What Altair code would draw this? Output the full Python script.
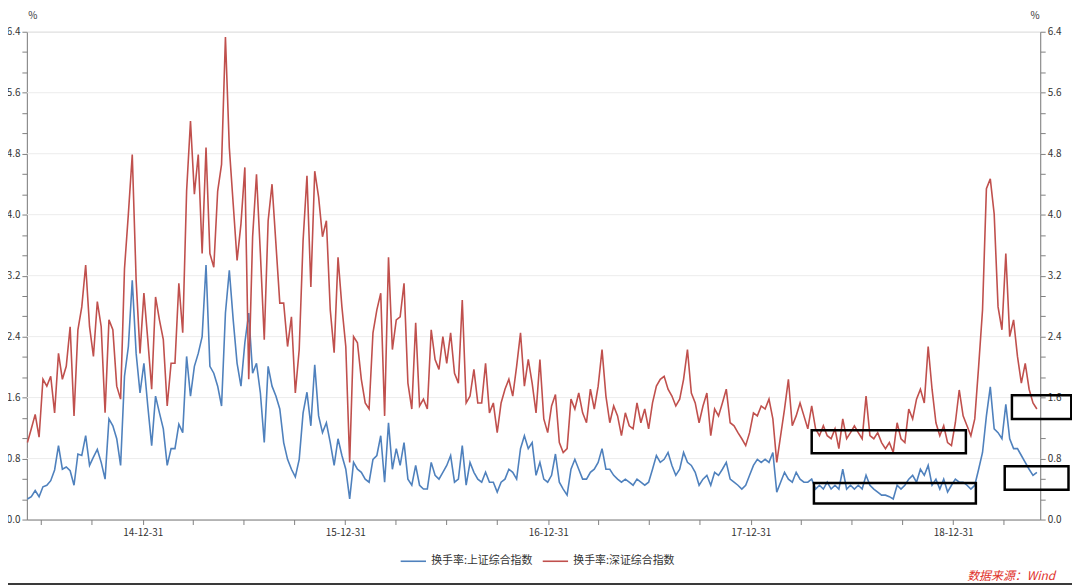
import altair as alt
import pandas as pd

# ---------------- data (weekly readings) ----------------
first_week = "2014-06-06"

sh_turnover = [
    0.27, 0.30, 0.38, 0.30, 0.43, 0.45, 0.51, 0.65, 0.97, 0.66, 0.69, 0.64, 0.45, 0.86, 0.84, 1.10,
    0.71, 0.82, 0.92, 0.75, 0.53, 1.32, 1.23, 1.06, 0.71, 1.88, 2.27, 3.14, 2.18, 1.66, 2.05, 1.49,
    0.97, 1.62, 1.40, 1.19, 0.71, 0.93, 0.93, 1.25, 1.14, 2.14, 1.62, 2.01, 2.18, 2.40, 3.34, 2.01,
    1.92, 1.75, 1.49, 2.71, 3.27, 2.62, 2.05, 1.75, 2.32, 2.71, 1.92, 2.05, 1.66, 1.01, 2.01, 1.75,
    1.62, 1.45,
    1.01, 0.79, 0.66, 0.56, 0.79, 1.40, 1.67, 1.23, 2.03, 1.36, 1.14, 1.27, 1.01, 0.71, 1.06, 0.84,
    0.66, 0.27, 0.75, 0.66, 0.62, 0.53, 0.49, 0.79, 0.84, 1.10, 0.49, 1.27, 0.66, 0.93, 0.71, 1.01,
    0.53, 0.45, 0.71, 0.45, 0.40, 0.40, 0.75, 0.58, 0.53, 0.62, 0.71, 0.84, 0.49, 0.53, 0.97, 0.45,
    0.75, 0.62, 0.53, 0.49, 0.62, 0.49, 0.49, 0.36, 0.49, 0.53, 0.66, 0.62, 0.53, 0.93, 1.10, 0.93,
    1.01, 0.58,
    0.75, 0.53, 0.49, 0.58, 0.86, 0.49, 0.40, 0.32, 0.66, 0.79, 0.66, 0.53, 0.53, 0.62, 0.66, 0.75,
    0.93, 0.66, 0.66, 0.58, 0.53, 0.49, 0.53, 0.49, 0.45, 0.53, 0.49, 0.45, 0.49, 0.66, 0.84, 0.75,
    0.79, 0.88, 0.71, 0.58, 0.66, 0.88, 0.75, 0.71, 0.62, 0.45, 0.53, 0.58, 0.45, 0.62, 0.58, 0.66,
    0.75, 0.53, 0.49, 0.45, 0.40, 0.45, 0.58, 0.71, 0.79, 0.75, 0.79, 0.75, 0.88, 0.36, 0.49, 0.62,
    0.53, 0.49,
    0.62, 0.53, 0.49, 0.49, 0.53, 0.40, 0.45, 0.40, 0.49, 0.40, 0.45, 0.40, 0.66, 0.40, 0.45, 0.40,
    0.45, 0.40, 0.58, 0.45, 0.40, 0.36, 0.32, 0.32, 0.30, 0.27, 0.45, 0.40, 0.45, 0.53, 0.58, 0.49,
    0.66, 0.58, 0.71, 0.45, 0.53, 0.40, 0.53, 0.36, 0.45, 0.53, 0.49, 0.49, 0.45, 0.40, 0.45, 0.66,
    0.88, 1.36, 1.74, 1.19, 1.14, 1.06, 1.51, 1.06, 0.93, 0.93, 0.84, 0.75, 0.66, 0.58, 0.62,
]

sz_turnover = [
    1.01, 1.19, 1.38, 1.08, 1.84, 1.75, 1.88, 1.40, 2.18, 1.84, 2.01, 2.53, 1.36, 2.49, 2.79, 3.34,
    2.53, 2.14, 2.86, 2.53, 1.40, 2.62, 2.49, 1.75, 1.58, 3.29, 4.01, 4.79, 3.14, 2.18, 2.97, 2.36,
    1.71, 2.92, 2.62, 2.36, 1.49, 2.05, 2.05, 3.10, 2.45, 4.31, 5.23, 4.27, 4.79, 3.49, 4.88, 3.49,
    3.31, 4.31, 4.66, 6.33, 4.88, 4.14, 3.40, 3.88, 4.62, 1.84, 3.71, 4.53, 3.49, 2.36, 3.92, 4.40,
    3.62, 2.84,
    2.84, 2.27, 2.66, 1.66, 2.23, 3.66, 4.51, 3.05, 4.57, 4.23, 3.71, 3.92, 2.75, 2.19, 3.44, 2.79,
    2.27, 0.75, 2.40, 2.32, 1.84, 1.53, 1.45, 2.45, 2.75, 2.97, 1.36, 3.44, 2.23, 2.62, 2.66, 3.10,
    1.79, 1.45, 2.58, 1.49, 1.58, 1.45, 2.49, 2.10, 1.97, 2.40, 2.05, 2.45, 1.92, 1.79, 2.88, 1.53,
    1.62, 1.97, 1.53, 1.53, 2.05, 1.40, 1.53, 1.14, 1.53, 1.71, 1.84, 1.62, 2.01, 2.45, 1.75, 2.10,
    1.79, 1.40,
    2.10, 1.32, 1.14, 1.49, 1.64, 1.01, 0.88, 0.93, 1.58, 1.45, 1.66, 1.40, 1.27, 1.71, 1.45, 1.75,
    2.23, 1.62, 1.27, 1.49, 1.36, 1.10, 1.40, 1.23, 1.19, 1.53, 1.27, 1.45, 1.19, 1.53, 1.75, 1.84,
    1.88, 1.71, 1.62, 1.49, 1.58, 1.84, 2.23, 1.66, 1.53, 1.27, 1.49, 1.66, 1.10, 1.45, 1.36, 1.53,
    1.71, 1.27, 1.23, 1.14, 1.06, 0.97, 1.14, 1.40, 1.36, 1.49, 1.45, 1.58, 1.32, 0.75, 1.10, 1.45,
    1.84, 1.23,
    1.36, 1.53, 1.36, 1.19, 1.49, 1.19, 1.10, 1.23, 1.10, 1.06, 1.19, 0.93, 1.32, 1.06, 1.14, 1.23,
    1.14, 1.06, 1.62, 1.10, 1.06, 1.14, 1.01, 0.93, 1.01, 0.88, 1.27, 1.06, 1.01, 1.45, 1.32, 1.58,
    1.71, 1.53, 2.27, 1.71, 1.27, 1.10, 1.23, 1.01, 0.97, 1.27, 1.70, 1.36, 1.23, 1.10, 1.32, 2.01,
    2.75, 4.34, 4.47, 4.01, 2.79, 2.49, 3.49, 2.40, 2.62, 2.14, 1.79, 2.05, 1.71, 1.53, 1.45,
]

series_names = ["换手率:上证综合指数", "换手率:深证综合指数"]
series_colors = ["#4F81BD", "#C0504D"]

y_tick_values = [0.0, 0.2667, 0.5333, 0.8, 1.0667, 1.3333, 1.6, 1.8667, 2.1333, 2.4, 2.6667,
                 2.9333, 3.2, 3.4667, 3.7333, 4.0, 4.2667, 4.5333, 4.8, 5.0667, 5.3333, 5.6,
                 5.8667, 6.1333, 6.4]
grid_values = [0.8, 1.6, 2.4, 3.2, 4.0, 4.8, 5.6, 6.4]

quarter_ends = [(2014, 6, 30), (2014, 9, 30), (2014, 12, 31),
                (2015, 3, 31), (2015, 6, 30), (2015, 9, 30), (2015, 12, 31),
                (2016, 3, 31), (2016, 6, 30), (2016, 9, 30), (2016, 12, 31),
                (2017, 3, 31), (2017, 6, 30), (2017, 9, 30), (2017, 12, 31),
                (2018, 3, 31), (2018, 6, 30), (2018, 9, 30), (2018, 12, 31),
                (2019, 3, 31)]

# highlight boxes (dates / values)
box_start = ["2018-04-20", "2018-04-24", "2019-04-16", "2019-04-03"]
box_end = ["2019-01-23", "2019-02-10", "2019-08-01", "2019-07-27"]
box_low = [0.87, 0.21, 1.32, 0.39]
box_high = [1.17, 0.48, 1.63, 0.70]

source_note = "数据来源：Wind"

# ---------------- build tables ----------------
dates = pd.date_range(first_week, periods=len(sh_turnover), freq="7D").strftime("%Y-%m-%d").tolist()
lines_df = pd.DataFrame({
    "date": dates + dates,
    "value": sh_turnover + sz_turnover,
    "series": [series_names[0]] * len(sh_turnover) + [series_names[1]] * len(sz_turnover),
})
grid_df = pd.DataFrame({"v": grid_values})
box_df = pd.DataFrame({"start": box_start, "end": box_end, "low": box_low, "high": box_high})

FONT = "Noto Sans CJK SC"
W, H = 1020, 491

x_scale = alt.Scale(domain=[alt.DateTime(year=2014, month=6, date=5),
                            alt.DateTime(year=2019, month=6, date=6)])
y_scale = alt.Scale(domain=[0, 6.4], nice=False, zero=True)

label_expr_y = "abs(datum.value/0.8 - round(datum.value/0.8)) < 0.01 ? format(datum.value, '.1f') : ''"

common_axis = dict(
    values=y_tick_values, labelExpr=label_expr_y, grid=False, tickSize=5,
    domainColor="#808080", tickColor="#808080", labelColor="#333333",
    labelFontSize=10, labelFont=FONT, labelOverlap=False, labelFlush=False,
    labelPadding=2, titleAngle=0, titleFontSize=10, titleFont=FONT,
    titleFontWeight="normal", titleColor="#333333", titleY=-13,
    titleBaseline="alphabetic",
)

grid_layer = alt.Chart(grid_df).mark_rule(color="#ececec", strokeWidth=1).encode(
    y=alt.Y("v:Q", scale=y_scale,
            axis=alt.Axis(orient="right", title="%", titleX=-1, titleAlign="right",
                          **common_axis))
)

line_layer = alt.Chart(lines_df).mark_line(strokeWidth=1.6).encode(
    x=alt.X("date:T", scale=x_scale,
            axis=alt.Axis(values=[alt.DateTime(year=a, month=b, date=c) for a, b, c in quarter_ends],
                          labelExpr="month(datum.value) == 11 ? timeFormat(datum.value, '%y-%m-%d') : ''",
                          title=None, grid=False, tickSize=5, domainColor="#808080",
                          tickColor="#808080", labelColor="#333333", labelFontSize=10,
                          labelFont=FONT, labelOverlap=False, labelFlush=False, labelPadding=3)),
    y=alt.Y("value:Q", scale=y_scale,
            axis=alt.Axis(orient="left", title="%", titleX=1, titleAlign="left", **common_axis)),
    color=alt.Color("series:N",
                    scale=alt.Scale(domain=series_names, range=series_colors),
                    legend=alt.Legend(orient="none", legendX=375, legendY=519,
                                      direction="horizontal", title=None,
                                      symbolType="stroke", symbolStrokeWidth=1.6,
                                      symbolSize=650, labelFont=FONT, labelFontSize=11,
                                      labelColor="#333333", columnPadding=6, labelOffset=4)),
)

box_layer = alt.Chart(box_df).mark_rect(fillOpacity=0, stroke="black", strokeWidth=2.5).encode(
    x=alt.X("start:T", scale=x_scale, axis=None),
    x2="end:T",
    y=alt.Y("low:Q", scale=y_scale, axis=None),
    y2="high:Q",
)

note_layer = alt.Chart(alt.Data(values=[{"t": source_note}])).mark_text(
    font=FONT, fontSize=12, fontStyle="italic", color="#E0302A", align="right", baseline="middle"
).encode(x=alt.value(1035), y=alt.value(548), text="t:N")

bottom_line = alt.Chart(alt.Data(values=[{"a": 1}])).mark_rule(color="#3a3a3a", strokeWidth=2).encode(
    x=alt.value(-19), x2=alt.value(1052), y=alt.value(556)
)

chart = alt.layer(grid_layer, line_layer, box_layer, note_layer, bottom_line).resolve_scale(
    y="independent"
).resolve_axis(
    x="independent"
).properties(
    width=W, height=H,
    autosize=alt.AutoSizeParams(type="none"),
    padding={"left": 19, "top": 22, "right": 32, "bottom": 66},
).configure_view(stroke=None).configure(background="white")

chart.save("out.html", embed_options={"renderer": "svg", "actions": False})
